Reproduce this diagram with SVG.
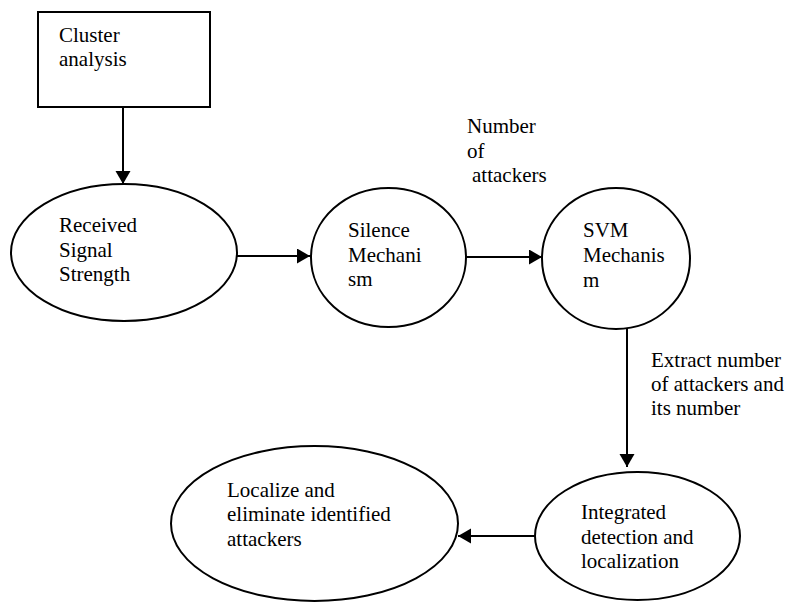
<svg xmlns="http://www.w3.org/2000/svg" width="787" height="603" viewBox="0 0 787 603">
<style>
.shape{fill:#fff;stroke:#000;stroke-width:2}
.edge{fill:none;stroke:#000;stroke-width:2}
text{font-family:'Liberation Serif','Times New Roman','DejaVu Serif',serif;font-size:21px;fill:#000}
</style>
<defs>
<marker id="arr" markerUnits="userSpaceOnUse" markerWidth="14" markerHeight="16" refX="13" refY="7.5" orient="auto">
<path d="M0,0 L13,7.5 L0,15 Z" fill="#000"/>
</marker>
</defs>
<rect width="787" height="603" fill="#fff"/>
<g id="n-cluster">
<rect class="shape" x="38" y="12" width="172" height="95"/>
<text x="59" y="42">Cluster</text>
<text x="59" y="66">analysis</text>
</g>
<g id="n-rss">
<ellipse class="shape" cx="124" cy="252.5" rx="113" ry="68.5"/>
<text x="59" y="232">Received</text>
<text x="59" y="257">Signal</text>
<text x="59" y="281">Strength</text>
</g>
<g id="n-silence">
<ellipse class="shape" cx="388.5" cy="257.5" rx="77.5" ry="69.5"/>
<text x="348" y="237">Silence</text>
<text x="348" y="262">Mechani</text>
<text x="348" y="286">sm</text>
</g>
<g id="n-svm">
<ellipse class="shape" cx="616" cy="258.5" rx="74" ry="70.5"/>
<text x="583" y="237">SVM</text>
<text x="583" y="262">Mechanis</text>
<text x="583" y="287">m</text>
</g>
<g id="n-integrated">
<ellipse class="shape" cx="637.5" cy="536" rx="102.5" ry="64"/>
<text x="581" y="519">Integrated</text>
<text x="581" y="544">detection and</text>
<text x="581" y="568">localization</text>
</g>
<g id="n-localize">
<ellipse class="shape" cx="314.5" cy="523.5" rx="143.5" ry="77.5"/>
<text x="227" y="497">Localize and</text>
<text x="227" y="521">eliminate identified</text>
<text x="227" y="546">attackers</text>
</g>
<g id="connectors">
<line class="edge" x1="123" y1="107" x2="123" y2="184" marker-end="url(#arr)"/>
<line class="edge" x1="237" y1="256" x2="310" y2="256" marker-end="url(#arr)"/>
<line class="edge" x1="466" y1="257" x2="542" y2="257" marker-end="url(#arr)"/>
<line class="edge" x1="627" y1="329" x2="627" y2="467" marker-end="url(#arr)"/>
<line class="edge" x1="535" y1="536" x2="458" y2="536" marker-end="url(#arr)"/>
</g>
<g id="labels">
<text x="467" y="133">Number</text>
<text x="467" y="158">of</text>
<text x="472" y="182">attackers</text>
<text x="651" y="367">Extract number</text>
<text x="651" y="391">of attackers and</text>
<text x="651" y="415">its number</text>
</g>
</svg>
